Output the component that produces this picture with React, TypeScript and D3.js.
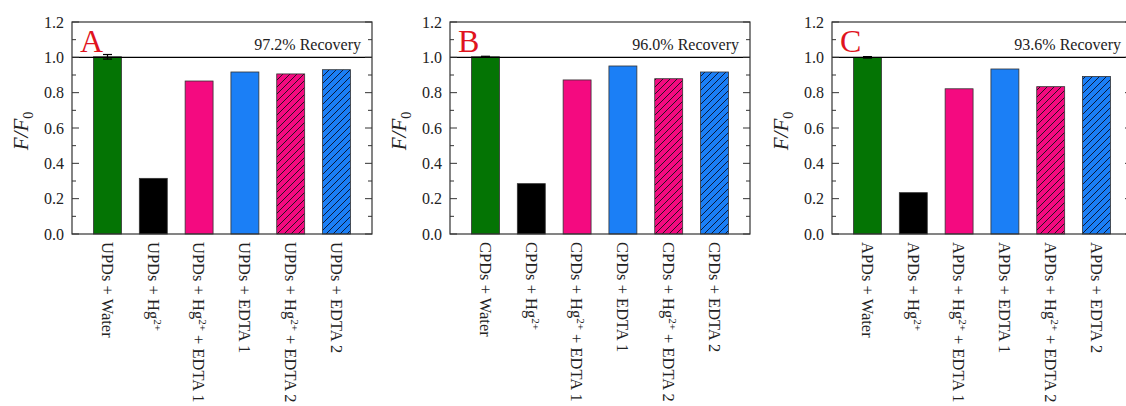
import React from "react";
import * as d3 from "d3";

// Conditions along the x axis (suffix after the dot prefix)
const conditions = ["Water", "Hg", "Hg+EDTA1", "EDTA1", "Hg+EDTA2", "EDTA2"];

// Panel identifiers and their dot prefixes
const panelLetters = ["A", "B", "C"];
const panelPrefixes = ["UPDs", "CPDs", "APDs"];
const recoveryLabels = ["97.2% Recovery", "96.0% Recovery", "93.6% Recovery"];

// F/F0 values for each panel
const valuesA = [1.003, 0.315, 0.866, 0.917, 0.906, 0.93];
const valuesB = [1.003, 0.285, 0.872, 0.951, 0.879, 0.917];
const valuesC = [1.0, 0.234, 0.822, 0.934, 0.834, 0.892];
const errorsA = [0.013, 0, 0, 0, 0, 0];
const errorsB = [0.003, 0, 0, 0, 0, 0];
const errorsC = [0.004, 0, 0, 0, 0, 0];

const yTicks = [0.0, 0.2, 0.4, 0.6, 0.8, 1.0, 1.2];
const yMinorTicks = [0.1, 0.3, 0.5, 0.7, 0.9, 1.1];

const panelValues = [valuesA, valuesB, valuesC];
const panelErrors = [errorsA, errorsB, errorsC];

const FONT = "'Liberation Serif', 'Times New Roman', serif";
const GREEN = "#047404";
const PINK = "#f40a80";
const BLUE = "#1b7ff6";

const fills = [GREEN, "#000000", PINK, BLUE, "url(#hatchPink)", "url(#hatchBlue)"];

const panelLefts = [72, 450, 832];
const panelWidth = 300;
const top = 22;
const bottom = 234;

function XLabel({ prefix, cond, x, y }: { prefix: string; cond: string; x: number; y: number }) {
  const sup = (
    <tspan dy={-6} fontSize={11}>
      2+
    </tspan>
  );
  let content: React.ReactNode;
  if (cond === "Water") content = <>{prefix} + Water</>;
  else if (cond === "Hg") content = <>{prefix} + Hg{sup}</>;
  else if (cond === "EDTA1") content = <>{prefix} + EDTA 1</>;
  else if (cond === "EDTA2") content = <>{prefix} + EDTA 2</>;
  else {
    const n = cond.endsWith("1") ? "1" : "2";
    content = (
      <>
        {prefix} + Hg{sup}
        <tspan dy={6}> + EDTA {n}</tspan>
      </>
    );
  }
  return (
    <text
      transform={`translate(${x},${y}) rotate(90)`}
      dy="0.35em"
      fontFamily={FONT}
      fontSize={16.5}
      fill="#222"
      textAnchor="start"
    >
      {content}
    </text>
  );
}

function Panel({ idx }: { idx: number }) {
  const left = panelLefts[idx];
  const right = left + panelWidth;
  const y = d3.scaleLinear().domain([0, 1.2]).range([bottom, top]);
  const x = d3
    .scaleBand<string>()
    .domain(conditions)
    .range([left, right])
    .paddingInner(0.39)
    .paddingOuter(0.47);
  const vals = panelValues[idx];
  const errs = panelErrors[idx];
  const bw = x.bandwidth();
  return (
    <g>
      {/* bars */}
      {conditions.map((c, i) => (
        <rect
          key={c}
          x={x(c)}
          y={y(vals[i])}
          width={bw}
          height={y(0) - y(vals[i])}
          fill={fills[i]}
          stroke="#333"
          strokeWidth={0.8}
        />
      ))}
      {/* error bars */}
      {conditions.map((c, i) =>
        errs[i] > 0 ? (
          <g key={"e" + c} stroke="#000" strokeWidth={1.2}>
            <line x1={x(c)! + bw / 2} x2={x(c)! + bw / 2} y1={y(vals[i] - errs[i])} y2={y(vals[i] + errs[i])} />
            <line x1={x(c)! + bw / 2 - 4.5} x2={x(c)! + bw / 2 + 4.5} y1={y(vals[i] + errs[i])} y2={y(vals[i] + errs[i])} />
            <line x1={x(c)! + bw / 2 - 4.5} x2={x(c)! + bw / 2 + 4.5} y1={y(vals[i] - errs[i])} y2={y(vals[i] - errs[i])} />
          </g>
        ) : null
      )}
      {/* reference line at 1.0 */}
      <line x1={left} x2={right} y1={y(1)} y2={y(1)} stroke="#000" strokeWidth={1.2} />
      {/* frame */}
      <rect x={left} y={top} width={panelWidth} height={bottom - top} fill="none" stroke="#333" strokeWidth={1.2} />
      {/* ticks, inward on both sides */}
      {yTicks.map((t) => (
        <g key={"t" + t} stroke="#333" strokeWidth={1}>
          <line x1={left} x2={left + 7} y1={y(t)} y2={y(t)} />
          <line x1={right} x2={right - 7} y1={y(t)} y2={y(t)} />
        </g>
      ))}
      {yMinorTicks.map((t) => (
        <g key={"m" + t} stroke="#333" strokeWidth={1}>
          <line x1={left} x2={left + 4} y1={y(t)} y2={y(t)} />
          <line x1={right} x2={right - 4} y1={y(t)} y2={y(t)} />
        </g>
      ))}
      {/* tick labels */}
      {yTicks.map((t) => (
        <text
          key={"l" + t}
          x={left - 8}
          y={y(t)}
          dy="0.35em"
          textAnchor="end"
          fontFamily={FONT}
          fontSize={16}
          fill="#222"
        >
          {d3.format(".1f")(t)}
        </text>
      ))}
      {/* y axis title */}
      <text
        transform={`translate(${left - 44},${(top + bottom) / 2 + 3}) rotate(-90)`}
        textAnchor="middle"
        fontFamily={FONT}
        fontSize={21}
        fontStyle="italic"
        fill="#222"
      >
        F/F
        <tspan dy={5} fontSize={14} fontStyle="normal">
          0
        </tspan>
      </text>
      {/* panel letter */}
      <text x={left + 8} y={52} fontFamily={FONT} fontSize={32} fill="#e0141e">
        {panelLetters[idx]}
      </text>
      {/* recovery */}
      <text x={right - 11} y={50} textAnchor="end" fontFamily={FONT} fontSize={16} fill="#222">
        {recoveryLabels[idx]}
      </text>
      {/* category labels */}
      {conditions.map((c) => (
        <XLabel key={"x" + c} prefix={panelPrefixes[idx]} cond={c} x={x(c)! + bw / 2} y={bottom + 8} />
      ))}
    </g>
  );
}

export default function App() {
  return (
    <svg width={1126} height={406} style={{ display: "block", position: "absolute", left: 0, top: 0 }}>
      <rect width={1126} height={406} fill="#fff" />
      <defs>
        <pattern id="hatchPink" width={7} height={7} patternUnits="userSpaceOnUse">
          <rect width={7} height={7} fill={PINK} />
          <path d="M-1,1 l2,-2 M0,7 l7,-7 M6,8 l2,-2" stroke="#2a1020" strokeWidth={1} />
        </pattern>
        <pattern id="hatchBlue" width={7} height={7} patternUnits="userSpaceOnUse">
          <rect width={7} height={7} fill={BLUE} />
          <path d="M-1,1 l2,-2 M0,7 l7,-7 M6,8 l2,-2" stroke="#0a1a3a" strokeWidth={1} />
        </pattern>
      </defs>
      {panelLetters.map((_, i) => (
        <Panel key={i} idx={i} />
      ))}
    </svg>
  );
}
